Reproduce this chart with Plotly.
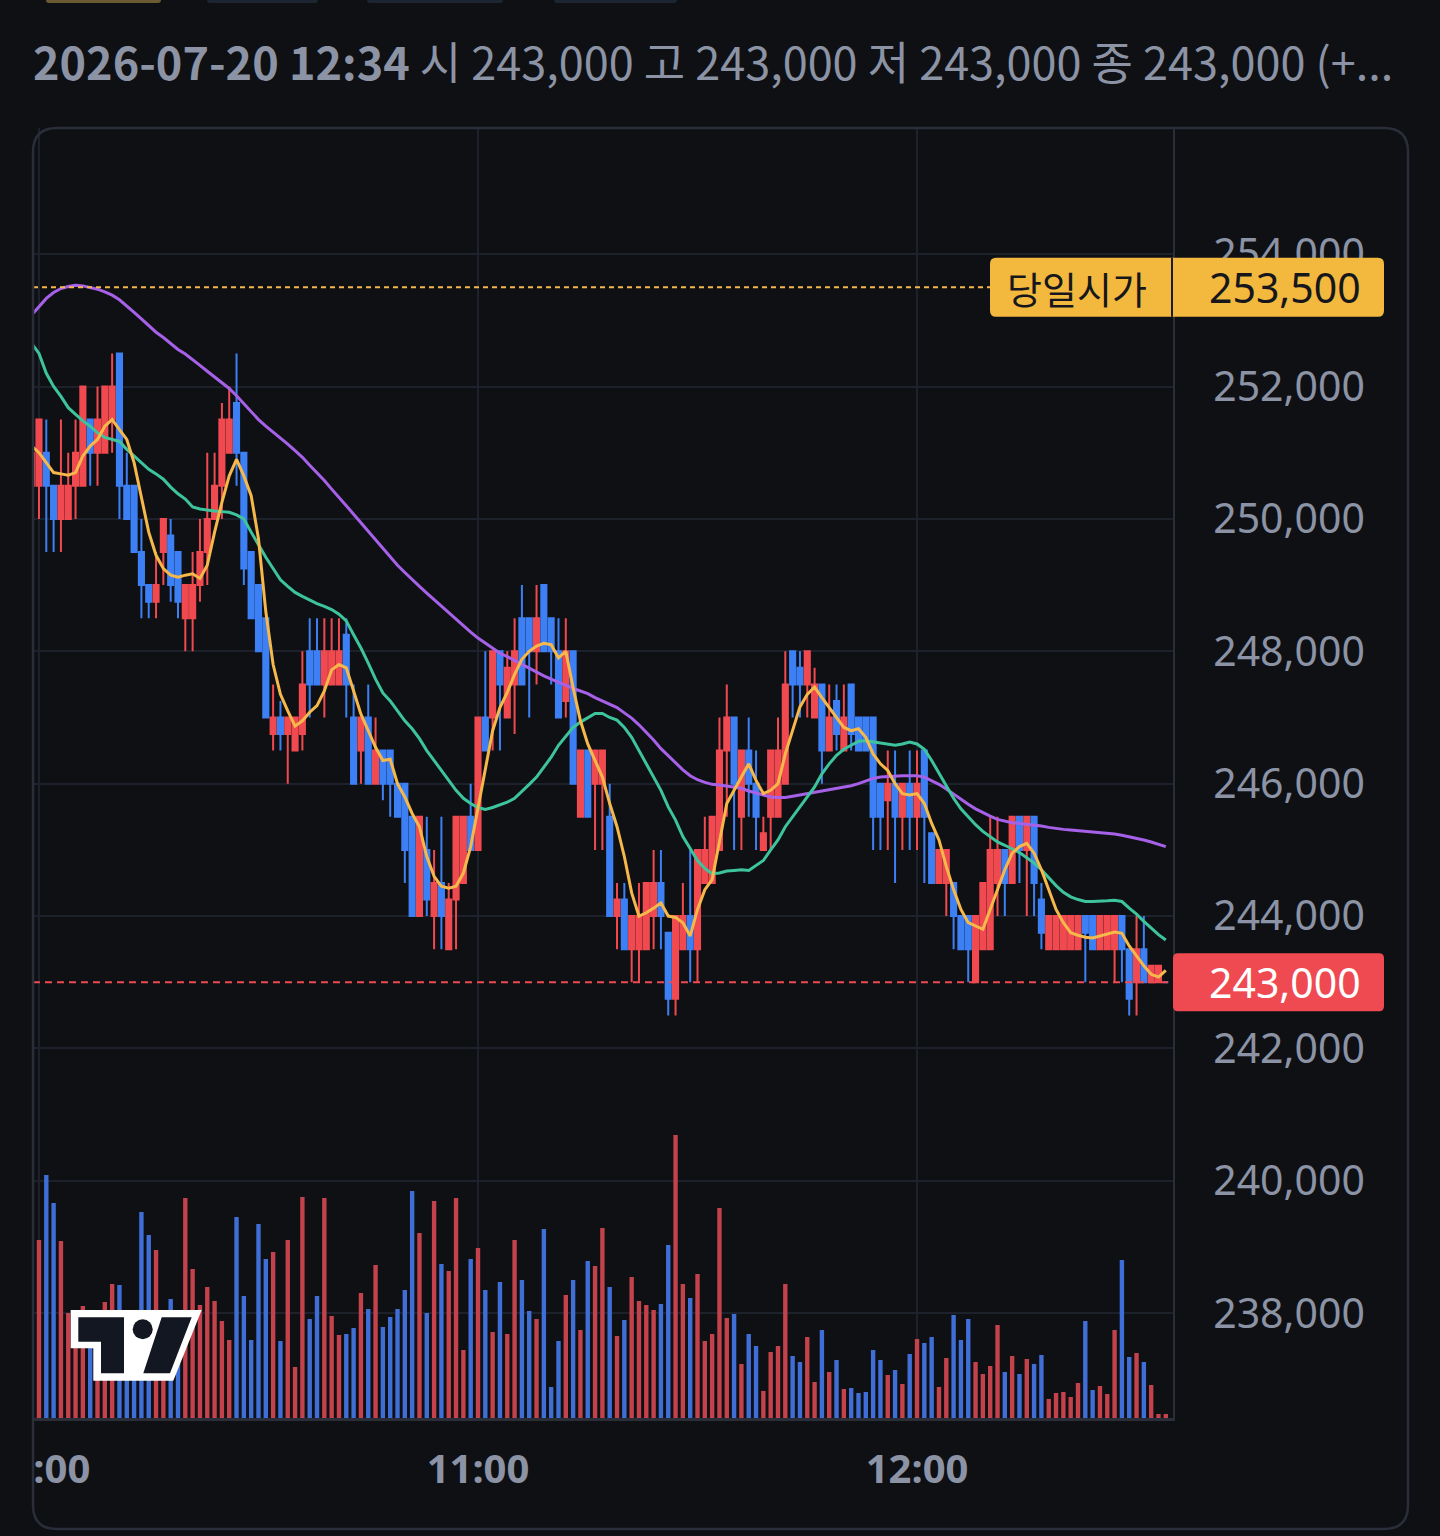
import plotly.graph_objects as go
import pandas as pd

# ---------------- data ----------------
START = "2026-07-20 09:59"

opens = [
    250500, 250500, 251000, 250500, 250000, 250000, 250500, 250500, 251500, 251000,
    251000, 251500, 252500, 250500, 250500, 249500, 249000, 248750, 249500, 249750,
    249500, 248500, 248500, 249000, 249500, 250000, 250500, 251000, 251750, 251000,
    249500, 249000, 248500, 246750, 247000, 246750, 246500, 246750, 248000, 248000,
    247500, 247500, 247500, 248250, 247000, 246500, 247000, 246000, 246500, 246500,
    246000, 246000, 245500, 244000, 245000, 244000, 244500, 243500, 244250, 244500,
    245500, 245000, 247000, 247000, 248000, 247000, 247500, 248500, 248500, 248000,
    249000, 248500, 248000, 247250, 248000, 245500, 246500, 246000, 246000, 245500,
    244000, 244250, 243500, 243500, 243500, 244000, 244500, 243750, 242750, 243500,
    244000, 243500, 244500, 244500, 245000, 246500, 247000, 245500, 246500, 246000,
    245000, 245500, 245500, 246000, 248000, 247750, 247500, 247000, 247500, 246500,
    247250, 246500, 247500, 247000, 247000, 247000, 246000, 245750, 246000, 245500,
    246000, 245500, 246500, 245250, 244500, 244500, 244500, 244000, 244000, 243000,
    243500, 243500, 244500, 245000, 244500, 245500, 245000, 245500, 244250, 243500,
    243500, 243500, 243500, 243500, 244000, 244000, 243500, 243500, 243500, 244000,
    243500, 243000, 243500, 243000, 243000, 243000,
]
highs = [
    251000, 251500, 251500, 250500, 251500, 251000, 251500, 252000, 251500, 252000,
    252000, 252500, 252500, 251000, 250500, 250000, 249000, 249500, 250000, 250000,
    249500, 249000, 249500, 250000, 251000, 251000, 251750, 252000, 252500, 251000,
    249500, 249000, 248500, 247500, 247250, 247000, 247000, 248000, 248500, 248500,
    248500, 248500, 248500, 248500, 247500, 247000, 247500, 247000, 246500, 246500,
    246000, 246000, 245500, 245500, 245500, 245000, 245500, 244500, 245500, 245500,
    246000, 247000, 248000, 248000, 248000, 248000, 248500, 249000, 248500, 249000,
    249000, 248500, 248500, 248500, 248000, 246500, 246500, 246500, 246500, 246000,
    244500, 244500, 244000, 244500, 244500, 245000, 245000, 243750, 244000, 244500,
    245000, 245000, 245500, 245500, 247000, 247500, 247000, 246500, 247000, 246500,
    245500, 246500, 247000, 248000, 248000, 248000, 248000, 247750, 247500, 247500,
    247500, 247500, 247500, 247000, 247000, 247000, 246000, 246500, 246500, 246000,
    246500, 246500, 246500, 245250, 245000, 245000, 244500, 244000, 244000, 244000,
    244500, 245500, 245500, 245000, 245500, 245500, 245500, 245500, 244500, 244000,
    244000, 244000, 244000, 244000, 244000, 244000, 244000, 244000, 244000, 244000,
    243500, 244000, 244000, 243250, 243250, 243000,
]
lows = [
    250000, 250000, 249500, 249500, 249500, 250000, 250000, 250500, 250500, 250500,
    251000, 251000, 250000, 250000, 249500, 248500, 248500, 248500, 249000, 248750,
    248500, 248000, 248000, 248750, 249000, 250000, 250000, 251000, 250500, 249000,
    248500, 248000, 247000, 246500, 246500, 246000, 246500, 246500, 247000, 247500,
    247000, 247500, 247500, 247000, 246000, 246000, 246000, 246000, 245750, 245500,
    245500, 244500, 244000, 244000, 244000, 243500, 243500, 243500, 243500, 244500,
    245000, 245000, 246500, 246500, 246500, 247000, 246750, 247500, 247000, 247500,
    248000, 247500, 247000, 247000, 246000, 245500, 245500, 245000, 245000, 244000,
    243500, 243500, 243000, 243000, 243500, 243500, 243500, 242500, 242500, 243500,
    243000, 243000, 244500, 244500, 245000, 245500, 245000, 245000, 245500, 245000,
    245000, 245000, 245500, 246000, 247000, 247000, 247000, 247000, 246000, 246500,
    246500, 246500, 246500, 246500, 246500, 245000, 245000, 245000, 244500, 245000,
    245000, 245000, 244500, 244500, 244500, 244000, 243500, 243500, 243000, 243000,
    243500, 243500, 244000, 244000, 244500, 244500, 244000, 244000, 243500, 243500,
    243500, 243500, 243500, 243500, 243000, 243500, 243500, 243500, 243000, 243000,
    242500, 242500, 243000, 243000, 243000, 243000,
]
closes = [
    251000, 251500, 250500, 250000, 250500, 250500, 251000, 252000, 251000, 251500,
    252000, 252000, 250500, 250000, 249500, 249000, 248750, 249000, 250000, 249000,
    248750, 249000, 249000, 249500, 250000, 250500, 251500, 251500, 251000, 249250,
    248500, 248000, 247000, 247000, 246750, 247000, 247000, 247500, 247500, 247500,
    248000, 248000, 248000, 247500, 246000, 247000, 246000, 246500, 246000, 246000,
    245500, 245000, 244000, 245500, 244250, 244500, 244000, 244250, 245500, 245500,
    245000, 247000, 246500, 248000, 247500, 247750, 248000, 247500, 248000, 248500,
    248000, 248000, 247000, 248000, 246000, 246500, 245500, 246500, 246500, 244000,
    244250, 243500, 244000, 244000, 244500, 244500, 244000, 242750, 244000, 244000,
    243500, 245000, 245000, 245500, 246500, 247000, 246000, 246500, 246000, 245500,
    245250, 246500, 246500, 247500, 247500, 247500, 248000, 247500, 246500, 247000,
    246750, 247000, 246750, 246500, 246500, 245500, 245500, 246000, 245500, 246000,
    245500, 246000, 245500, 244500, 245000, 245000, 244000, 243500, 243500, 244000,
    244500, 245000, 245000, 244500, 245500, 245000, 245500, 244500, 243750, 244000,
    244000, 244000, 244000, 244000, 243750, 243500, 244000, 244000, 244000, 243500,
    242750, 243500, 243000, 243250, 243250, 243000,
]
volumes = [
    11500, 17800, 24300, 21500, 17700, 10500, 8800, 11200, 8300, 9800,
    11600, 13400, 13300, 8300, 7300, 20600, 18300, 16800, 8800, 11900,
    7800, 22000, 14900, 11300, 13100, 11700, 9700, 7800, 20100, 12200,
    7800, 19400, 15900, 16600, 7700, 17800, 5100, 22100, 9900, 12200,
    22000, 10200, 8300, 8400, 9000, 12500, 10900, 15300, 9100, 10100,
    10900, 12800, 22700, 18500, 10500, 21700, 15400, 14700, 22000, 6800,
    15900, 17000, 12800, 8600, 13600, 8400, 17800, 13800, 10700, 9900,
    18900, 3100, 7700, 12300, 13800, 8800, 15700, 15200, 19000, 13100,
    8200, 9800, 14100, 11700, 11300, 10800, 11400, 17300, 28300, 13400,
    12000, 14400, 7700, 8400, 21000, 10000, 10400, 5400, 8400, 7200,
    2700, 6600, 7200, 13400, 6200, 5600, 8100, 3600, 8800, 4600,
    5800, 2900, 3000, 2500, 2600, 6800, 5800, 4300, 4800, 3400,
    6400, 7900, 7500, 8100, 3100, 6000, 10300, 7800, 9900, 5600,
    4400, 5200, 9300, 4600, 6200, 4400, 5900, 5400, 6300, 1900,
    2500, 2600, 2100, 3500, 9700, 2800, 3200, 2400, 8800, 15800,
    6100, 6500, 5600, 3300, 400, 400,
]
ma_short = [
    251100, 251000, 250850, 250700, 250680, 250660, 250700, 250950, 251100, 251200,
    251400, 251500, 251350, 251200, 250850, 250300, 249800, 249450, 249250, 249150,
    249120, 249150, 249170, 249100, 249300, 249800, 250250, 250650, 250900, 250650,
    250350, 249700, 248600, 247800, 247350, 247100, 246870, 246950, 247080, 247180,
    247400, 247720, 247800, 247750, 247400, 247050, 246800, 246550, 246350, 246370,
    246000, 245800, 245550, 245350, 244900, 244600, 244450, 244420, 244450, 244650,
    245050, 245650, 246250, 246800, 247150, 247380, 247650, 247880, 248000, 248080,
    248120, 248100, 247900, 248000, 247450, 246950, 246600, 246350, 246100, 245700,
    245350, 244900, 244350, 244000, 244050, 244120, 244200, 244000, 243980, 243900,
    243700, 244100, 244400, 244550, 245100, 245700, 245900, 246100, 246300, 246050,
    245850, 245900, 246000, 246450, 246800, 247160, 247350, 247460, 247300, 247150,
    247000, 246850, 246800, 246830, 246700, 246450, 246300, 246200, 246000, 245850,
    245830, 245850, 245700, 245400, 245150, 244750, 244400, 244100, 243900, 243850,
    243800, 244100, 244400, 244700, 244950, 245050, 245100, 244950, 244700, 244400,
    244100, 243900, 243750, 243710, 243680, 243670, 243700, 243720, 243760, 243740,
    243550, 243400, 243250, 243120, 243080, 243180,
]
ma_mid = [
    252650, 252500, 252200, 252000, 251850, 251680, 251580, 251480, 251400, 251300,
    251230, 251200, 251170, 251050, 250950, 250850, 250750, 250680, 250600, 250480,
    250380, 250300, 250180, 250150, 250130, 250120, 250110, 250100, 250060, 250000,
    249800, 249600, 249420, 249250, 249080, 248980, 248890, 248830, 248770, 248720,
    248680, 248630, 248560, 248460, 248250, 248050, 247820, 247580, 247370, 247250,
    247100, 246950, 246830, 246680, 246500, 246350, 246200, 246050, 245900, 245780,
    245700, 245640, 245610, 245640, 245680, 245720, 245780, 245880, 245990, 246100,
    246250, 246400, 246580, 246720, 246850, 246930, 247000, 247060, 247060, 247000,
    246960, 246850, 246700, 246500, 246300, 246100, 245900, 245650, 245450, 245200,
    245020, 244840, 244720, 244640, 244650, 244680, 244690, 244700, 244690, 244760,
    244840, 245000, 245150, 245350, 245500, 245650, 245800, 245950, 246150, 246300,
    246430, 246520, 246580, 246640, 246650, 246630, 246610, 246600, 246580, 246600,
    246630, 246600, 246520, 246350, 246150, 245970, 245780, 245620, 245500, 245380,
    245280, 245200, 245120, 245070, 245020, 244960, 244880, 244800, 244700, 244580,
    244460, 244360, 244290, 244250, 244220, 244220, 244220, 244230, 244240, 244220,
    244120, 244030, 243920, 243820, 243720, 243640,
]
ma_long = [
    253080, 253200, 253330, 253420, 253480, 253510, 253530, 253520, 253500, 253470,
    253430, 253380, 253310, 253220, 253120, 253020, 252920, 252820, 252740, 252650,
    252560, 252490, 252410, 252320, 252230, 252140, 252060, 251970, 251860, 251740,
    251620, 251500, 251400, 251310, 251230, 251130, 251030, 250930, 250810, 250700,
    250580, 250450, 250330, 250200, 250070, 249940, 249810, 249680, 249550, 249430,
    249300, 249190, 249080, 248980, 248880, 248780, 248680, 248580, 248480, 248390,
    248290, 248200, 248120, 248040, 247970, 247920, 247860, 247800, 247740, 247680,
    247630, 247580, 247530, 247490, 247440, 247400, 247360, 247300, 247250, 247200,
    247150, 247070, 246990, 246890, 246780, 246660, 246530, 246420, 246310, 246210,
    246120, 246060, 246020, 245990, 245980, 245960, 245950, 245930, 245890, 245860,
    245820, 245800, 245790, 245790, 245810, 245830, 245840, 245860, 245880, 245900,
    245920, 245940, 245970, 246000, 246040, 246080, 246100, 246110, 246120, 246120,
    246120, 246120, 246100, 246050, 245990, 245920, 245840, 245760, 245690, 245620,
    245560, 245510, 245460, 245430, 245410, 245400, 245390, 245380, 245360, 245340,
    245320, 245310, 245300, 245290, 245280, 245270, 245270, 245260, 245240, 245220,
    245200, 245170, 245150, 245120, 245090, 245050,
]

OPEN_PRICE = 253500
OPEN_LABEL = "당일시가"
y_tick_vals = [238000, 240000, 242000, 244000, 246000, 248000, 250000, 252000, 254000]
y_tick_text = ["238,000", "240,000", "242,000", "244,000", "246,000", "248,000",
               "250,000", "252,000", "254,000"]
x_tick_vals = ["2026-07-20 10:00", "2026-07-20 11:00", "2026-07-20 12:00"]
x_tick_text = ["10:00", "11:00", "12:00"]
header_date = "2026-07-20 12:34"
header_rest = "시 243,000 고 243,000 저 243,000 종 243,000 (+..."

times = pd.date_range(START, periods=len(opens), freq="min")
LAST_PRICE = closes[-1]

# ---------------- style ----------------
W, H = 1440, 1536
L, R, T, B = 33, 267, 128, 118
PW, PH = W - L - R, H - T - B
BG = "#0e1014"
GRID = "#1c212b"
BORDER = "#2a2e39"
TXT = "#8b93a5"
RED, BLUE = "#f04a50", "#3d80f5"
VRED, VBLUE = "#c4424b", "#3f6fd6"
YEL, GRN, PUR = "#f6b84a", "#3ec49c", "#a661e8"
BOX_Y, BOX_R = "#f3b83e", "#ef4a51"
Y_RANGE = [236418, 255905]
U_PER_PX = (Y_RANGE[1] - Y_RANGE[0]) / PH
FONT = "Noto Sans, Noto Sans CJK KR, sans-serif"
KFONT = "Noto Sans CJK KR, Noto Sans, sans-serif"


def px_x(px):
    return (px - L) / PW


def px_y(py):
    return (T + PH - py) / PH


def poly_path(pts):
    return "M " + " L ".join(f"{px_x(x):.5f},{px_y(y):.5f}" for x, y in pts) + " Z"


def rr_path_px(x0, y0, x1, y1, r):
    X, Y = px_x, px_y
    return (f"M {X(x0+r)},{Y(y0)} L {X(x1-r)},{Y(y0)} Q {X(x1)},{Y(y0)} {X(x1)},{Y(y0+r)} "
            f"L {X(x1)},{Y(y1-r)} Q {X(x1)},{Y(y1)} {X(x1-r)},{Y(y1)} "
            f"L {X(x0+r)},{Y(y1)} Q {X(x0)},{Y(y1)} {X(x0)},{Y(y1-r)} "
            f"L {X(x0)},{Y(y0+r)} Q {X(x0)},{Y(y0)} {X(x0+r)},{Y(y0)} Z")


def rr_path_price(x0, x1, price, half_px, r):
    """rounded box: x in pixels (paper), y in price units around a level"""
    X = px_x
    top, bot = price + half_px * U_PER_PX, price - half_px * U_PER_PX
    ry = r * U_PER_PX
    return (f"M {X(x0+r)},{top} L {X(x1-r)},{top} Q {X(x1)},{top} {X(x1)},{top-ry} "
            f"L {X(x1)},{bot+ry} Q {X(x1)},{bot} {X(x1-r)},{bot} "
            f"L {X(x0+r)},{bot} Q {X(x0)},{bot} {X(x0)},{bot+ry} "
            f"L {X(x0)},{top-ry} Q {X(x0)},{top} {X(x0+r)},{top} Z")


vol_colors = [VRED if c >= o else VBLUE for o, c in zip(opens, closes)]

fig = go.Figure()
fig.add_trace(go.Bar(x=times, y=volumes, yaxis="y2", width=36000,
                     marker=dict(color=vol_colors, line=dict(width=0)),
                     hoverinfo="skip"))
fig.add_trace(go.Candlestick(
    x=times, open=opens, high=highs, low=lows, close=closes,
    increasing=dict(line=dict(color=RED, width=2), fillcolor=RED),
    decreasing=dict(line=dict(color=BLUE, width=2), fillcolor=BLUE),
    whiskerwidth=0, hoverinfo="skip"))
for vals, col in ((ma_long, PUR), (ma_mid, GRN), (ma_short, YEL)):
    fig.add_trace(go.Scatter(x=times, y=vals, mode="lines",
                             line=dict(color=col, width=3), hoverinfo="skip"))

shapes = []
# price level lines
shapes.append(dict(type="line", xref="paper", yref="y", x0=0, x1=px_x(990),
                   y0=OPEN_PRICE, y1=OPEN_PRICE, line=dict(color=YEL, width=2, dash="5px,4px"),
                   layer="above"))
shapes.append(dict(type="line", xref="paper", yref="y", x0=0, x1=1,
                   y0=LAST_PRICE, y1=LAST_PRICE, line=dict(color=BOX_R, width=2, dash="7px,5px"),
                   layer="above"))
# label boxes
shapes.append(dict(type="path", xref="paper", yref="y",
                   path=rr_path_price(990, 1384, OPEN_PRICE, 29.5, 6),
                   fillcolor=BOX_Y, line=dict(width=0), layer="above"))
shapes.append(dict(type="line", xref="paper", yref="y", x0=px_x(1172), x1=px_x(1172),
                   y0=OPEN_PRICE - 29.5 * U_PER_PX, y1=OPEN_PRICE + 29.5 * U_PER_PX,
                   line=dict(color="#1a1d24", width=2), layer="above"))
shapes.append(dict(type="path", xref="paper", yref="y",
                   path=rr_path_price(1173, 1384, LAST_PRICE, 29, 5),
                   fillcolor=BOX_R, line=dict(width=0), layer="above"))
# cover the clipped part of the first time label
shapes.append(dict(type="rect", xref="paper", yref="paper", x0=px_x(-20), x1=px_x(35),
                   y0=px_y(1520), y1=px_y(1425), fillcolor=BG, line=dict(width=0), layer="above"))
# panel border
shapes.append(dict(type="path", xref="paper", yref="paper",
                   path=rr_path_px(33, 128, 1408, 1529, 24),
                   fillcolor="rgba(0,0,0,0)", line=dict(color=BORDER, width=2.5), layer="above"))
# partial tab buttons at the very top
for x0, x1, c in ((46, 161, "#6c5a33"), (207, 318, "#1d2532"), (367, 503, "#1d2532"), (554, 677, "#1d2532")):
    shapes.append(dict(type="path", xref="paper", yref="paper",
                       path=rr_path_px(x0, -10, x1, 3, 3), fillcolor=c, line=dict(width=0),
                       layer="above"))
# TradingView logo
shapes.append(dict(type="path", xref="paper", yref="paper", layer="above",
                   path=poly_path([(70.7, 1310), (201.7, 1310), (173.3, 1380.7), (93.3, 1380.7),
                                   (93.3, 1348.3), (70.7, 1348.3)]),
                   fillcolor="#ffffff", line=dict(width=0)))
shapes.append(dict(type="path", xref="paper", yref="paper", layer="above",
                   path=poly_path([(78.3, 1317.3), (124, 1317.3), (124, 1373.3), (101, 1373.3),
                                   (101, 1341.7), (78.3, 1341.7)]),
                   fillcolor="#131722", line=dict(width=0)))
shapes.append(dict(type="circle", xref="paper", yref="paper", layer="above",
                   x0=px_x(132.7), x1=px_x(152.7), y0=px_y(1339.3), y1=px_y(1319.3),
                   fillcolor="#131722", line=dict(width=0)))
shapes.append(dict(type="path", xref="paper", yref="paper", layer="above",
                   path=poly_path([(161.7, 1317.3), (191.7, 1317.3), (170, 1373.3), (143.3, 1373.3)]),
                   fillcolor="#131722", line=dict(width=0)))

annotations = [
    dict(xref="paper", yref="paper", x=px_x(31), y=px_y(60), xanchor="left", yanchor="middle",
         showarrow=False, text=f"<b>{header_date}</b> {header_rest}",
         font=dict(family=KFONT, size=45, color=TXT)),
    dict(xref="paper", yref="y", x=px_x(1077), y=OPEN_PRICE, xanchor="center", yanchor="middle",
         showarrow=False, text=OPEN_LABEL, font=dict(family=KFONT, size=38, color="#15171c")),
    dict(xref="paper", yref="y", x=px_x(1285), y=OPEN_PRICE, xanchor="center", yanchor="middle",
         showarrow=False, text=f"{OPEN_PRICE:,}", font=dict(family=FONT, size=41, color="#15171c")),
    dict(xref="paper", yref="y", x=px_x(1285), y=LAST_PRICE, xanchor="center", yanchor="middle",
         showarrow=False, text=f"{LAST_PRICE:,}", font=dict(family=FONT, size=41, color="#ffffff")),
]

fig.update_layout(
    width=W, height=H, margin=dict(l=L, r=R, t=T, b=B, pad=0),
    paper_bgcolor=BG, plot_bgcolor=BG, showlegend=False, hovermode=False,
    boxgap=0.3, boxgroupgap=0,
    shapes=shapes, annotations=annotations,
    xaxis=dict(type="date", range=["2026-07-20 09:59:11", "2026-07-20 12:34:59"],
               rangeslider=dict(visible=False), tickvals=x_tick_vals, ticktext=x_tick_text,
               showgrid=True, gridcolor=GRID, gridwidth=2, zeroline=False,
               showline=True, linecolor=BORDER, linewidth=3, ticks="",
               tickfont=dict(family=FONT, size=40, color=TXT, weight="bold"),
               ticklabeloverflow="allow",
               ticklabelstandoff=14, automargin=False, fixedrange=True),
    yaxis=dict(range=Y_RANGE, side="right", tickvals=y_tick_vals, ticktext=y_tick_text,
               showgrid=True, gridcolor=GRID, gridwidth=2, zeroline=False,
               showline=True, linecolor=BORDER, linewidth=2, ticks="",
               tickfont=dict(family=FONT, size=41, color=TXT),
               ticklabelstandoff=30, automargin=False, fixedrange=True),
    yaxis2=dict(range=[0, PH * 100], overlaying="y", visible=False, fixedrange=True),
)

fig.write_html("out.html")
